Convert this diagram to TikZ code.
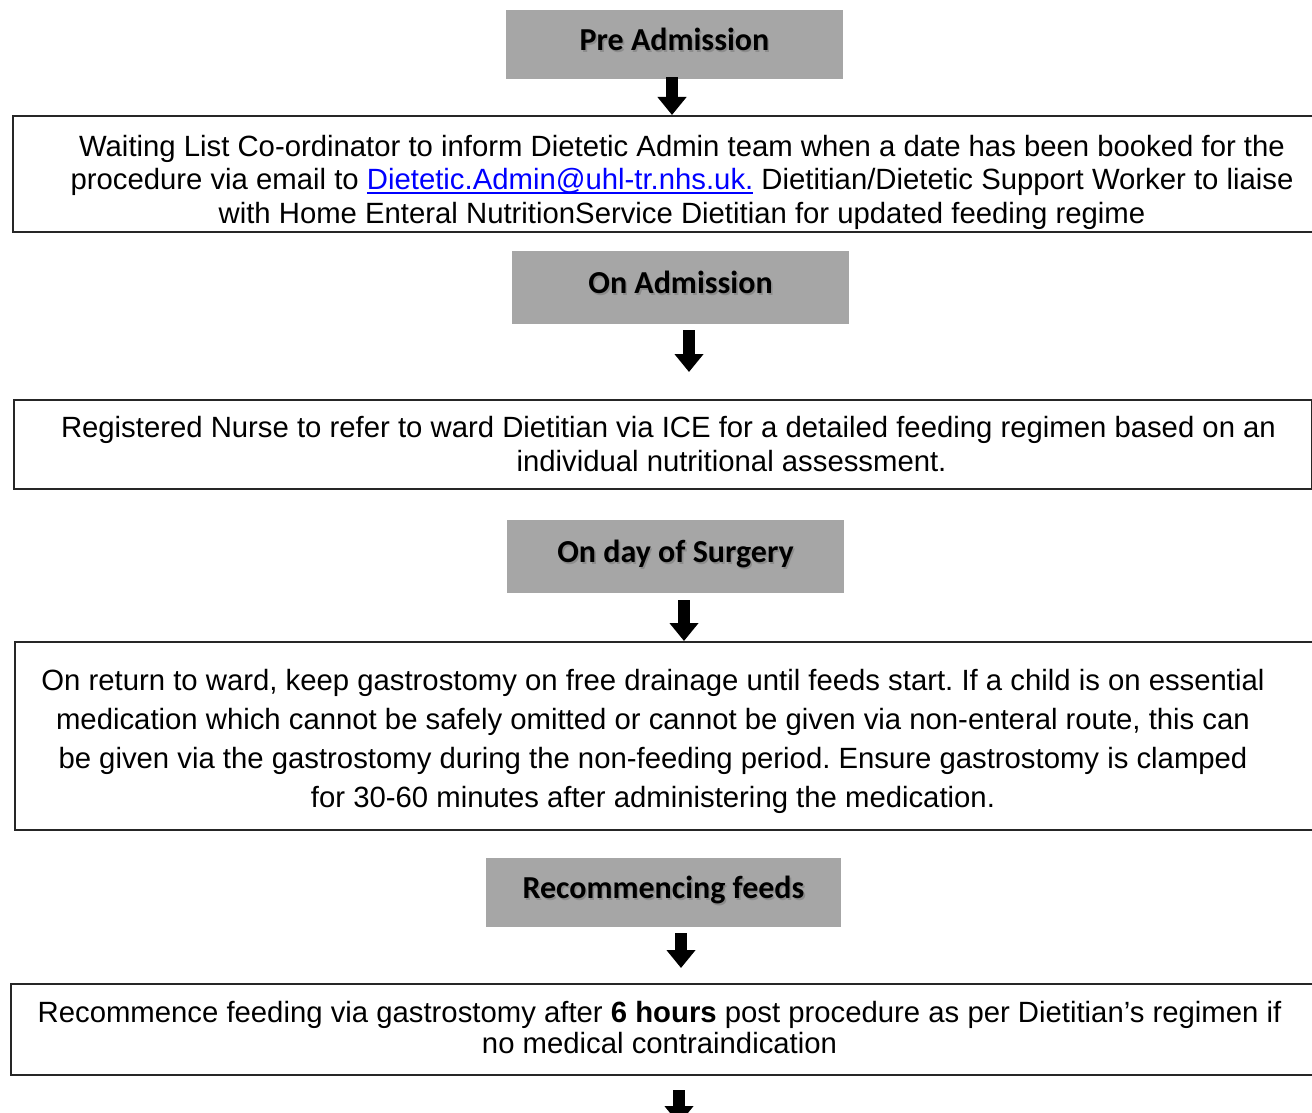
\documentclass[tikz,border=0pt]{standalone}
\usepackage{fontspec}
\setmainfont{Liberation Sans}
\newfontfamily\headfont{Carlito}
\frenchspacing
\definecolor{headgray}{RGB}{166, 166, 166}
\definecolor{linkblue}{RGB}{0, 0, 255}
\usetikzlibrary{arrows.meta, positioning, calc}
\newcommand{\shadowed}[1]{\rlap{\hspace{1.6pt}\raisebox{-1.6pt}{\textcolor{black!45}{#1}}}#1}
\newcommand{\maillink}[1]{\textcolor{linkblue}{\setbox0\hbox{#1}\rlap{\rule[-4pt]{\wd0}{1.8pt}}\box0}}
\tikzset{
  stagehead/.style={fill=headgray, minimum width=337pt, minimum height=#1, inner sep=0pt, text height=22pt, text depth=9.4pt, font=\headfont\bfseries\fontsize{32}{38}\selectfont},
  stepbox/.style={draw=black!85, line width=2pt, anchor=north west, inner sep=0pt},
  boxtext/.style={align=center, inner sep=0pt, font=\fontsize{29.3}{#1}\selectfont},
  downarrow/.style={line width=12pt, -{Triangle[length=18pt, width=28pt]}},
}

\begin{document}
\begin{tikzpicture}[x=1pt, y=-1pt]
\useasboundingbox (0,0) rectangle (1312,1113);
\clip (0,0) rectangle (1312,1113);
\node[stagehead=69pt] (pre) at (674.5,44.5) {\shadowed{Pre Admission}};
\node[stepbox, minimum width=1300pt, minimum height=116pt] (waitbox) at (12,115) {};
\node[boxtext=33.5pt] (waittext) at ($(waitbox.center)+(19,8)$)
  {Waiting List Co-ordinator to inform Dietetic Admin team when a date has been booked for the\\
   procedure via email to \maillink{Dietetic.Admin@uhl-tr.nhs.uk.} Dietitian/Dietetic Support Worker to liaise\\
   with Home Enteral NutritionService Dietitian for updated feeding regime};
\node[stagehead=73pt] (adm) at (680.5,287.5) {\shadowed{On Admission}};
\node[stepbox, minimum width=1298pt, minimum height=89pt] (nursebox) at (13,399) {};
\node[boxtext=34pt] (nursetext) at ($(nursebox.center)+(5.5,0)$)
  {Registered Nurse to refer to ward Dietitian via ICE for a detailed feeding regimen based on an\\
   \hspace*{126pt}individual nutritional assessment.};
\node[stagehead=73pt] (surg) at (675.5,556.5) {\shadowed{On day of Surgery}};
\node[stepbox, minimum width=1298pt, minimum height=188pt] (returnbox) at (14,641) {};
\node[boxtext=39pt] (returntext) at ($(returnbox.center)+(-11,5)$)
  {On return to ward, keep gastrostomy on free drainage until feeds start. If a child is on essential\\
   medication which cannot be safely omitted or cannot be given via non-enteral route, this can\\
   be given via the gastrostomy during the non-feeding period. Ensure gastrostomy is clamped\\
   for 30-60 minutes after administering the medication.};
\node[stagehead=69pt, minimum width=355pt] (recom) at (663.5,892.5) {\shadowed{Recommencing feeds}};
\node[stepbox, minimum width=1302pt, minimum height=91pt] (feedbox) at (10,983) {};
\node[boxtext=31pt] (feedtext) at ($(feedbox.center)+(-2.5,-2)$)
  {Recommence feeding via gastrostomy after \textbf{6 hours} post procedure as per Dietitian’s regimen if\\
   no medical contraindication};
\draw[downarrow] ($(pre.south)+(-2.5,-2)$) -- ($(pre.south |- waitbox.north)+(-2.5,0)$);
\draw[downarrow] ($(adm.south)+(8.5,6)$) -- ($(adm.south |- nursebox.north)+(8.5,-27)$);
\draw[downarrow] ($(surg.south)+(8.5,7)$) -- ($(surg.south |- returnbox.north)+(8.5,0)$);
\draw[downarrow] ($(recom.south)+(17.5,6)$) -- ($(recom.south |- feedbox.north)+(17.5,-15)$);
\coordinate (tail) at ($(feedbox.south)+(17,48)$);
\draw[downarrow] ($(feedbox.south)+(17,14)$) -- (tail);
\end{tikzpicture}
\end{document}
